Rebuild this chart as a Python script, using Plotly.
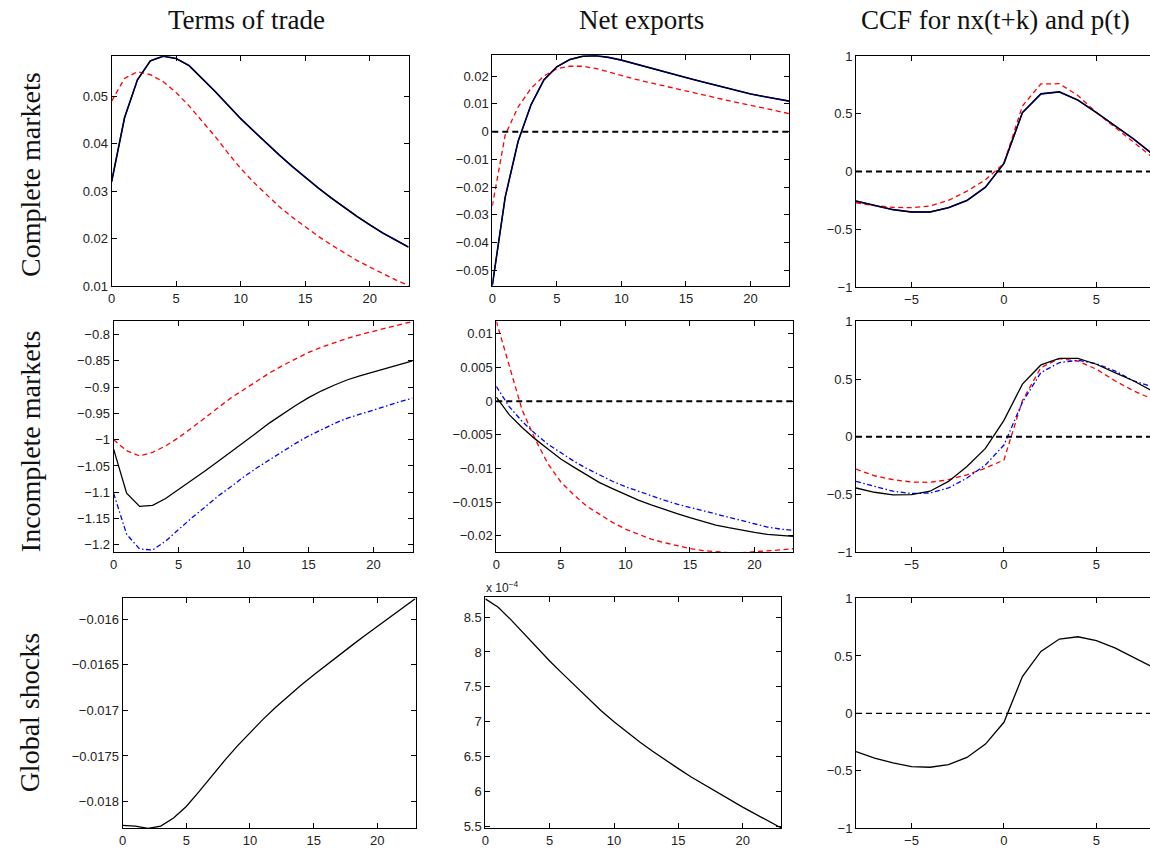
import plotly.graph_objects as go

# ---------------- data ----------------
t = list(range(24))
k = list(range(-8, 9))

# Row 1: complete markets
tot_c_black = [0.032, 0.0455, 0.0535, 0.0575, 0.0585, 0.058, 0.0565, 0.0539, 0.0511, 0.0482,
               0.0453, 0.0427, 0.0401, 0.0376, 0.0352, 0.0329, 0.0307, 0.0286, 0.0266, 0.0247,
               0.0229, 0.0212, 0.0197, 0.0182]
tot_c_blue = tot_c_black
tot_c_red = [0.049, 0.0538, 0.0552, 0.0546, 0.0531, 0.0508, 0.048, 0.0449, 0.0416, 0.0381,
             0.0348, 0.0319, 0.0292, 0.0267, 0.0245, 0.0225, 0.0205, 0.0187, 0.017, 0.0154,
             0.014, 0.0126, 0.0113, 0.0101]

nx_c_black = [-0.0555, -0.0236, -0.0035, 0.0097, 0.0187, 0.0234, 0.026, 0.0272, 0.0274, 0.0268,
              0.0258, 0.0245, 0.0232, 0.022, 0.0207, 0.0195, 0.0183, 0.0171, 0.0159, 0.0147,
              0.0136, 0.0127, 0.0118, 0.011]
nx_c_blue = nx_c_black
nx_c_red = [-0.0268, -0.0012, 0.0089, 0.0156, 0.0201, 0.0227, 0.0236, 0.0236, 0.0228, 0.0215,
            0.0201, 0.019, 0.0179, 0.0168, 0.0158, 0.0148, 0.0137, 0.0126, 0.0115, 0.0105,
            0.0095, 0.0085, 0.0075, 0.0065]

ccf_c_black = [-0.256, -0.293, -0.33, -0.35, -0.35, -0.313, -0.25, -0.136, 0.071,
               0.511, 0.673, 0.69, 0.619, 0.511, 0.398, 0.284, 0.156]
ccf_c_blue = ccf_c_black
ccf_c_red = [-0.27, -0.295, -0.31, -0.313, -0.298, -0.25, -0.17, -0.071, 0.071,
             0.568, 0.759, 0.761, 0.659, 0.511, 0.384, 0.256, 0.128]

# Row 2: incomplete markets
tot_i_black = [-1.018, -1.102, -1.127, -1.125, -1.112, -1.095, -1.077, -1.06, -1.042, -1.024,
               -1.006, -0.987, -0.968, -0.951, -0.935, -0.92, -0.907, -0.896, -0.886, -0.878,
               -0.871, -0.863, -0.856, -0.85]
tot_i_red = [-1.0, -1.021, -1.031, -1.024, -1.012, -0.996, -0.978, -0.959, -0.94, -0.921,
             -0.905, -0.889, -0.873, -0.859, -0.846, -0.834, -0.824, -0.815, -0.807, -0.8,
             -0.794, -0.788, -0.781, -0.775]
tot_i_blue = [-1.102, -1.18, -1.208, -1.21, -1.193, -1.171, -1.149, -1.129, -1.108, -1.09,
              -1.071, -1.054, -1.038, -1.022, -1.007, -0.993, -0.981, -0.969, -0.959, -0.951,
              -0.943, -0.935, -0.928, -0.921]

nx_i_black = [0.0006, -0.002, -0.0039, -0.0056, -0.0071, -0.0086, -0.0098, -0.011, -0.0121, -0.013,
              -0.0139, -0.0147, -0.0154, -0.0161, -0.0167, -0.0173, -0.0179, -0.0184, -0.0188, -0.0192,
              -0.0195, -0.0198, -0.02, -0.0201]
nx_i_red = [0.0119, 0.0053, -0.0013, -0.0056, -0.0093, -0.012, -0.0139, -0.0156, -0.0168, -0.018,
            -0.019, -0.0198, -0.0205, -0.021, -0.0215, -0.0219, -0.0222, -0.0224, -0.0225, -0.0225,
            -0.0224, -0.0223, -0.0221, -0.0219]
nx_i_blue = [0.0022, -0.0008, -0.003, -0.0048, -0.0064, -0.0077, -0.0089, -0.01, -0.011, -0.0119,
             -0.0127, -0.0134, -0.014, -0.0147, -0.0153, -0.0158, -0.0163, -0.0168, -0.0173, -0.0178,
             -0.0183, -0.0187, -0.019, -0.0192]

ccf_i_black = [-0.443, -0.48, -0.503, -0.5, -0.471, -0.386, -0.257, -0.1, 0.143,
               0.457, 0.623, 0.68, 0.68, 0.629, 0.557, 0.486, 0.4]
ccf_i_red = [-0.28, -0.337, -0.371, -0.391, -0.394, -0.371, -0.329, -0.271, -0.2,
             0.314, 0.6, 0.677, 0.657, 0.586, 0.486, 0.4, 0.329]
ccf_i_blue = [-0.386, -0.429, -0.471, -0.491, -0.486, -0.443, -0.357, -0.243, -0.071,
              0.3, 0.557, 0.643, 0.663, 0.634, 0.571, 0.486, 0.434]

# Row 3: global shocks
tot_g = [-0.018262, -0.018269, -0.018294, -0.018269, -0.01818, -0.018054, -0.017892, -0.01772,
         -0.017552, -0.017392, -0.017242, -0.017102, -0.01697, -0.016845, -0.016726, -0.016612,
         -0.016502, -0.016394, -0.016288, -0.016183, -0.016079, -0.015976, -0.015874, -0.015774]
nx_g = [8.76e-4, 8.64e-4, 8.46e-4, 8.26e-4, 8.06e-4, 7.87e-4, 7.69e-4, 7.51e-4, 7.33e-4, 7.16e-4,
        7.0e-4, 6.85e-4, 6.71e-4, 6.58e-4, 6.45e-4, 6.33e-4, 6.21e-4, 6.1e-4, 5.99e-4, 5.88e-4,
        5.78e-4, 5.68e-4, 5.58e-4, 5.48e-4]
ccf_g = [-0.332, -0.389, -0.431, -0.462, -0.468, -0.445, -0.383, -0.267, -0.077,
         0.321, 0.539, 0.647, 0.667, 0.633, 0.57, 0.491, 0.406]

col_titles = ["Terms of trade", "Net exports", "CCF for nx(t+k) and p(t)"]
row_titles = ["Complete markets", "Incomplete markets", "Global shocks"]

yt_tot_c = [0.01, 0.02, 0.03, 0.04, 0.05]
yt_nx_c = [-0.05, -0.04, -0.03, -0.02, -0.01, 0, 0.01, 0.02]
yt_ccf = [-1, -0.5, 0, 0.5, 1]
yt_tot_i = [-1.2, -1.15, -1.1, -1.05, -1, -0.95, -0.9, -0.85, -0.8]
yt_nx_i = [-0.02, -0.015, -0.01, -0.005, 0, 0.005, 0.01]
yt_tot_g = [-0.018, -0.0175, -0.017, -0.0165, -0.016]
yt_nx_g = [5.5e-4, 6e-4, 6.5e-4, 7e-4, 7.5e-4, 8e-4, 8.5e-4]
xt_t = [0, 5, 10, 15, 20]
xt_k = [-5, 0, 5]

# ---------------- layout helpers ----------------
W, H = 1150, 858
def fx(p):
    return p / W
def fy(p):
    return 1 - p / H

def lab(v, scale=1.0):
    s = ("%g" % (v / scale))
    return s.replace("-", "\u2212")

# pixel boxes (left, top, right, bottom)
boxes = [
    (108, 50, 406, 284), (490, 49, 788, 284), (855, 50, 1150, 285),
    (110, 320, 410, 555), (494, 320, 792, 555), (855, 320, 1150, 555),
    (119, 602, 413, 836), (483, 601, 780, 836), (855, 602, 1150, 836),
]

xranges = [[0, 23], [0, 23], [-8, 7.9]] * 3
yranges = [[0.0100, 0.0585], [-0.0557, 0.0276], [-1, 1],
           [-1.2143, -0.775], [-0.02245, 0.01185], [-1, 1],
           [-0.018294, -0.015774], [5.475e-4, 8.78e-4], [-1, 1]]
ytickv = [yt_tot_c, yt_nx_c, yt_ccf, yt_tot_i, yt_nx_i, yt_ccf, yt_tot_g, yt_nx_g, yt_ccf]
yscale = [1, 1, 1, 1, 1, 1, 1, 1e-4, 1]

RED = "#ff0000"
BLUE = "#0000ff"
BLACK = "#000000"
RED_DASH = "5px,3.5px"
BLUE_DD = "5px,2.5px,1.5px,2.5px"

fig = go.Figure()
tickfont = dict(family="Liberation Sans, Arial, sans-serif", size=13, color="#222222")

for i, (l, tp, r, b) in enumerate(boxes):
    n = "" if i == 0 else str(i + 1)
    col = i % 3
    xa = dict(
        domain=[fx(l), fx(r)], range=xranges[i], anchor="y" + n,
        tickvals=(xt_k if col == 2 else xt_t),
        ticktext=[lab(v) for v in (xt_k if col == 2 else xt_t)],
        ticks="inside", ticklen=5, tickcolor=BLACK, showline=True, linecolor=BLACK,
        linewidth=1, mirror="ticks", showgrid=False, zeroline=False, tickfont=tickfont,
        fixedrange=True,
    )
    ya = dict(
        domain=[fy(b), fy(tp)], range=yranges[i], anchor="x" + n,
        tickvals=ytickv[i], ticktext=[lab(v, yscale[i]) for v in ytickv[i]],
        ticks="inside", ticklen=5, tickcolor=BLACK, showline=True, linecolor=BLACK,
        linewidth=1, mirror=("ticks" if col != 2 else False), showgrid=False,
        zeroline=False, tickfont=tickfont, fixedrange=True,
    )
    fig.layout["xaxis" + n] = xa
    fig.layout["yaxis" + n] = ya

def add(i, x, y, color, dash="solid", width=1.3):
    n = "" if i == 0 else str(i + 1)
    fig.add_trace(go.Scatter(x=x, y=y, mode="lines", xaxis="x" + n, yaxis="y" + n,
                             line=dict(color=color, dash=dash, width=width),
                             showlegend=False, hoverinfo="skip", cliponaxis=True))

def zero_line(i, width):
    n = "" if i == 0 else str(i + 1)
    fig.add_shape(type="line", xref="x" + n + " domain", yref="y" + n,
                  x0=0, x1=1, y0=0, y1=0,
                  line=dict(color=BLACK, width=width, dash="6px,4px"))

# row 1
add(0, t, tot_c_blue, BLUE, width=1.6)
add(0, t, tot_c_red, RED, RED_DASH)
add(0, t, tot_c_black, BLACK)
zero_line(1, 2)
add(1, t, nx_c_blue, BLUE, width=1.6)
add(1, t, nx_c_red, RED, RED_DASH)
add(1, t, nx_c_black, BLACK)
zero_line(2, 2)
add(2, k, ccf_c_blue, BLUE, width=1.6)
add(2, k, ccf_c_red, RED, RED_DASH)
add(2, k, ccf_c_black, BLACK)
# row 2
add(3, t, tot_i_red, RED, RED_DASH)
add(3, t, tot_i_blue, BLUE, BLUE_DD)
add(3, t, tot_i_black, BLACK)
zero_line(4, 2)
add(4, t, nx_i_red, RED, RED_DASH)
add(4, t, nx_i_blue, BLUE, BLUE_DD)
add(4, t, nx_i_black, BLACK)
zero_line(5, 2)
add(5, k, ccf_i_red, RED, RED_DASH)
add(5, k, ccf_i_blue, BLUE, BLUE_DD)
add(5, k, ccf_i_black, BLACK)
# row 3
add(6, t, tot_g, BLACK)
add(7, t, nx_g, BLACK)
zero_line(8, 1.2)
add(8, k, ccf_g, BLACK)

serif = "Liberation Serif, Times New Roman, serif"
anns = []
col_x = [243, 640, 995]
for name, cx in zip(col_titles, col_x):
    anns.append(dict(text=name, x=fx(cx), y=fy(13), xref="paper", yref="paper",
                     xanchor="center", yanchor="middle", showarrow=False,
                     font=dict(family=serif, size=27, color="#111111")))
row_y = [170, 442, 718]
for name, cy in zip(row_titles, row_y):
    anns.append(dict(text=name, x=fx(26), y=fy(cy), xref="paper", yref="paper",
                     xanchor="center", yanchor="middle", showarrow=False, textangle=-90,
                     font=dict(family=serif, size=28, color="#111111")))
anns.append(dict(text="x 10<sup>\u22124</sup>", x=fx(482), y=fy(600), xref="paper", yref="paper",
                 xanchor="left", yanchor="bottom", showarrow=False,
                 font=dict(family="Liberation Sans, Arial, sans-serif", size=12, color="#222222")))

fig.update_layout(width=W, height=H, margin=dict(l=0, r=0, t=0, b=0),
                  paper_bgcolor="white", plot_bgcolor="white", annotations=anns,
                  showlegend=False)

fig.write_html("out.html", config={"displayModeBar": False})
